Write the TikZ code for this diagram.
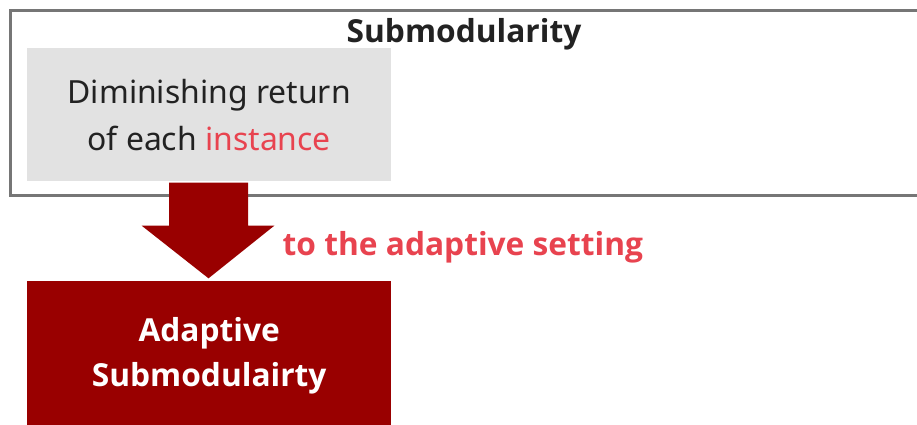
\documentclass[tikz,border=0pt]{standalone}
\usepackage{fontspec}
\setmainfont{Noto Sans}
\newfontfamily\heavy{Open Sans}
\definecolor{framegray}{HTML}{767676}
\definecolor{boxgray}{HTML}{E2E2E2}
\definecolor{inkdark}{HTML}{222222}
\definecolor{accent}{HTML}{E8434F}
\definecolor{deepred}{HTML}{990000}
\tikzset{
  frame/.style={draw=framegray, line width=3pt, inner sep=0pt, anchor=north west},
  plainbox/.style={fill=boxgray, inner sep=0pt, anchor=north west, text=inkdark, align=center,
    font=\fontsize{31.9}{47}\selectfont},
  strongbox/.style={fill=deepred, inner sep=0pt, anchor=north west, text=white, align=center,
    font=\heavy\bfseries\fontsize{31.7}{45.3}\selectfont},
  heading/.style={text=inkdark, inner sep=0pt, anchor=base, font=\heavy\bfseries\fontsize{31.7}{40}\selectfont},
  steplabel/.style={text=accent, inner sep=0pt, anchor=base west, font=\heavy\bfseries\fontsize{31.7}{40}\selectfont},
}
\begin{document}
\begin{tikzpicture}[x=1pt,y=-1pt]
\useasboundingbox (0,0) rectangle (917,424);
\clip (0,0) rectangle (917,424);
% outer frame, running past the right edge
\node[frame, minimum width=920pt, minimum height=185.5pt] (outer) at (8.5,8.5) {};
\node[heading] (title) at (464,42) {Submodularity};
% inner grey box
\node[plainbox, minimum width=364pt, minimum height=133pt] (dim) at (27,48)
  {Diminishing return\\of each \textcolor{accent}{instance}};
% block arrow
\fill[deepred] (169,182.5) -- (248,182.5) -- (248,225.7) -- (274.3,225.7)
  -- (208.5,278.3) -- (141.7,225.7) -- (169,225.7) -- cycle;
\node[steplabel] (lbl) at (282.5,255) {to the adaptive setting};
% result box, running past the bottom edge
\node[strongbox, minimum width=364pt, minimum height=149pt] (adapt) at (27,281)
  {Adaptive\\Submodulairty};
\end{tikzpicture}
\end{document}
